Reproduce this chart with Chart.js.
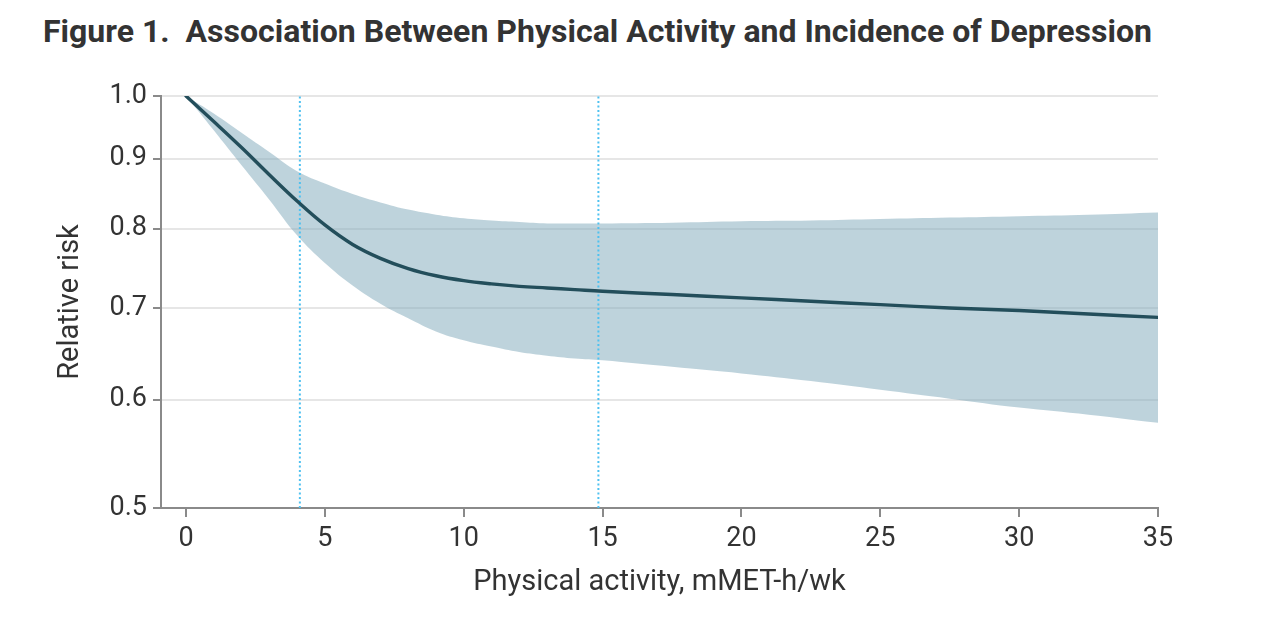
<!DOCTYPE html>
<html>
<head>
<meta charset="utf-8">
<script src="https://cdn.jsdelivr.net/npm/chart.js@4.4.1/dist/chart.umd.min.js"></script>
<style>
  html, body { margin:0; padding:0; background:#fff; width:1264px; height:620px; overflow:hidden; }
  #title { position:absolute; left:43px; top:13px; font-family:Roboto, "Noto Sans", sans-serif; font-weight:700; font-size:31px; color:#333; white-space:pre; transform-origin:0 0; line-height:1.2; }
  #wrap { position:absolute; left:0; top:0; width:1264px; height:620px; }
</style>
</head>
<body>
<div id="title">Figure 1.  Association Between Physical Activity and Incidence of Depression</div>
<div id="wrap"><canvas id="c" width="1264" height="620"></canvas></div>
<script>
// Physical activity, mMET-h/wk
const activity = [0,1,2,3,4,5,6,7,8,9,10,11,12,13,14,15,17.5,20,22.5,25,27.5,30,32.5,35];
// Relative risk (central estimate)
const relRisk  = [1.000,0.958,0.917,0.876,0.838,0.805,0.779,0.761,0.748,0.739,0.733,0.729,0.726,0.724,0.722,0.720,0.716,0.712,0.708,0.704,0.700,0.697,0.693,0.689];
// 95% CI upper bound
const ciUpper  = [1.000,0.971,0.940,0.910,0.881,0.863,0.848,0.836,0.826,0.819,0.814,0.811,0.809,0.807,0.807,0.807,0.808,0.810,0.811,0.813,0.815,0.817,0.819,0.822];
// 95% CI lower bound
const ciLower  = [1.000,0.944,0.890,0.840,0.791,0.755,0.727,0.705,0.688,0.673,0.663,0.656,0.650,0.646,0.643,0.641,0.634,0.627,0.619,0.610,0.601,0.592,0.585,0.577];
// Reference lines (vertical dotted)
const refLines = [4.1, 14.85];
// Tick values
const xTicks = [0,5,10,15,20,25,30,35];
const yTicks = [0.5,0.6,0.7,0.8,0.9,1.0];
const xMin = -0.9, xMax = 35, yMin = 0.5, yMax = 1.0;

// fit title width
(function(){
  const t = document.getElementById('title');
  const w = t.getBoundingClientRect().width;
  t.style.transform = 'scaleX(' + (1109 / w) + ')';
})();

const pts = arr => activity.map((x, i) => ({x: x, y: arr[i]}));
const AXIS = '#8a8a8a';
const TXT = '#333333';

const datasets = [
  { label:'upper', data: pts(ciUpper), borderWidth:0, pointRadius:0, fill:'+1',
    backgroundColor:'rgba(125,167,185,0.5)', borderColor:'rgba(0,0,0,0)', tension:0.4, order:3 },
  { label:'lower', data: pts(ciLower), borderWidth:0, pointRadius:0, fill:false,
    borderColor:'rgba(0,0,0,0)', tension:0.4, order:3 },
  { label:'rr', data: pts(relRisk), borderWidth:3.4, pointRadius:0, fill:false,
    borderColor:'#234e5b', tension:0.4, order:1, borderCapStyle:'round' }
];
refLines.forEach(v => datasets.push({
  label:'ref', data:[{x:v, y:yMin}, {x:v, y:yMax}], borderWidth:2, pointRadius:0, fill:false,
  borderColor:'#4fc1f0', borderDash:[2,2.5], order:2
}));

new Chart(document.getElementById('c'), {
  type:'line',
  data:{ datasets },
  options:{
    responsive:false,
    animation:false,
    devicePixelRatio:1,
    layout:{ padding:{ top:96, right:106, left:0, bottom:0 } },
    plugins:{ legend:{display:false}, tooltip:{enabled:false}, title:{display:false} },
    scales:{
      x:{
        type:'linear', min:xMin, max:xMax,
        afterBuildTicks: s => { s.ticks = xTicks.map(v => ({value:v})); },
        afterFit: s => { s.height = 112; },
        grid:{ drawOnChartArea:false, drawTicks:true, tickLength:9, lineWidth:2, color:AXIS, tickColor:AXIS },
        border:{ display:true, color:AXIS, width:2 },
        ticks:{ color:TXT, font:{family:'Roboto', size:27}, padding:6, maxRotation:0,
                callback: v => String(v) },
        title:{ display:true, text:'Physical activity, mMET-h/wk', color:TXT,
                font:{family:'Roboto', size:29}, padding:{top:0, bottom:20} }
      },
      y:{
        type:'logarithmic', min:yMin, max:yMax,
        afterBuildTicks: s => { s.ticks = yTicks.map(v => ({value:v})); },
        afterFit: s => { s.width = 161; },
        grid:{ drawOnChartArea:true, drawTicks:true, tickLength:8, lineWidth:2,
               color: c => (c.tick && Math.abs(c.tick.value - 0.5) < 1e-9) ? 'rgba(0,0,0,0)' : '#e6e6e6',
               tickColor:AXIS },
        border:{ display:true, color:AXIS, width:2 },
        ticks:{ color:TXT, font:{family:'Roboto', size:27}, padding:6,
                callback: v => Number(v).toFixed(1) },
        title:{ display:true, text:'Relative risk', color:TXT,
                font:{family:'Roboto', size:29}, padding:{top:53, bottom:0} }
      }
    }
  }
});
</script>
</body>
</html>
